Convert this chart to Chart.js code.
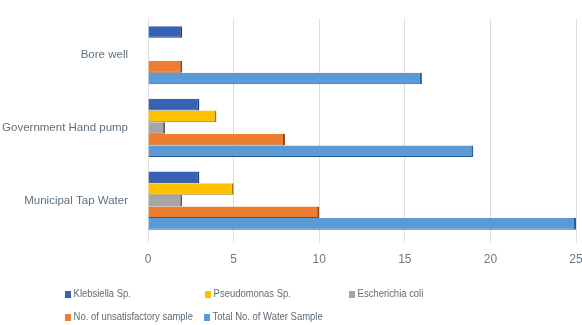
<!DOCTYPE html>
<html>
<head>
<meta charset="utf-8">
<script src="https://cdn.jsdelivr.net/npm/chart.js@4.4.0/dist/chart.umd.min.js"></script>
<style>
	html, body { margin: 0; padding: 0; background: #fff; }
	#wrap { position: relative; width: 582px; height: 325px; }
	#barChart { position: absolute; left: 0; top: 0; }
	.tc-legend { position: absolute; left: 0; top: 0; width: 582px; height: 325px; pointer-events: none;
		font-family: "Liberation Sans", sans-serif; font-size: 11px; color: #5f6b75; }
	.tc-legend span.item { position: absolute; white-space: nowrap; line-height: 12px;
		transform: scaleX(0.86); transform-origin: 0 50%; }
	.tc-legend i { display: inline-block; width: 7px; height: 7px; margin-right: 3px; vertical-align: -1px; }
</style>
</head>
<body>
<div id="wrap">
	<canvas id="barChart" width="582" height="272"></canvas>
	<div id="barLegend" class="tc-legend"></div>
</div>
<script>
var categories = ["Bore well", "Government Hand pump", "Municipal Tap Water"];
var klebsiella = [2, 3, 3];
var pseudomonas = [0, 4, 5];
var ecoli = [0, 1, 2];
var unsatisfactory = [2, 8, 10];
var totalSamples = [16, 19, 25];
var xTicks = [0, 5, 10, 15, 20, 25];

var Charts = function () {
	"use strict";
	var font = "'Liberation Sans', sans-serif";
	var barChartHandler = function () {
		var data = {
			labels: categories,
			datasets: [{
				label: "Klebsiella Sp.",
				backgroundColor: "#3562b4",
				borderColor: "#1f3f7a",
				data: klebsiella
			}, {
				label: "Pseudomonas Sp.",
				backgroundColor: "#ffc000",
				borderColor: "#a07a10",
				data: pseudomonas
			}, {
				label: "Escherichia coli",
				backgroundColor: "#a5a5a5",
				borderColor: "#5e5e5e",
				data: ecoli
			}, {
				label: "No. of unsatisfactory sample",
				backgroundColor: "#ed7d31",
				borderColor: "#8a4515",
				data: unsatisfactory
			}, {
				label: "Total No. of Water Sample",
				backgroundColor: "#5b9bd5",
				borderColor: "#2b5f90",
				data: totalSamples
			}]
		};
		data.datasets.forEach(function (ds) {
			ds.borderWidth = { top: 0, right: 2, bottom: 1, left: 0 };
			ds.borderSkipped = false;
			ds.categoryPercentage = 0.8;
			ds.barPercentage = 1.0;
		});

		var options = {
			indexAxis: "y",
			responsive: false,
			animation: false,
			layout: { padding: { top: 17, right: 0, left: 0, bottom: 0 } },
			plugins: {
				legend: { display: false },
				tooltip: { enabled: false }
			},
			scales: {
				x: {
					min: 0,
					max: 25,
					afterBuildTicks: function (scale) {
						scale.ticks = xTicks.map(function (v) { return { value: v }; });
					},
					afterFit: function (scale) {
						scale.height = 35;
						scale.paddingRight = 6;
					},
					grid: { color: "#dcdcdc", tickLength: 6, tickColor: "#e4e4e4" },
					border: { display: false },
					ticks: { color: "#6a7a88", padding: 9, font: { family: font, size: 12 } }
				},
				y: {
					afterFit: function (scale) { scale.width = 148; },
					grid: { display: false },
					border: { display: false },
					ticks: { color: "#5f7080", padding: 12, font: { family: font, size: 11.5 } }
				}
			}
		};

		var ctx = document.getElementById("barChart");
		var myChart = new Chart(ctx, {
			type: "bar",
			data: data,
			options: options
		});

		// legend laid out in fixed columns like the original
		var spots = [[65, 287], [205, 287], [349, 287], [65, 310], [204, 310]];
		var html = "";
		for (var i = 0; i < myChart.data.datasets.length; i++) {
			var ds = myChart.data.datasets[i];
			html += '<span class="item" style="left:' + spots[i][0] + 'px;top:' + spots[i][1] + 'px">' +
				'<i style="background-color:' + ds.backgroundColor + '"></i>' + ds.label + '</span>';
		}
		document.getElementById("barLegend").innerHTML = html;
	};

	return {
		init: function () {
			barChartHandler();
		}
	};
}();
Charts.init();
</script>
</body>
</html>
